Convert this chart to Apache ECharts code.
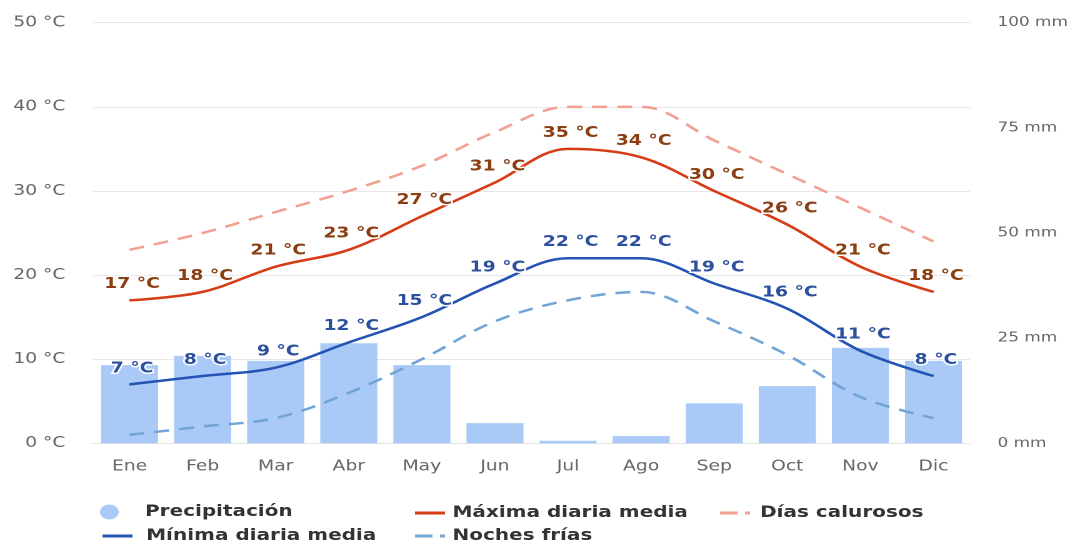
<!DOCTYPE html>
<html>
<head>
<meta charset="utf-8">
<script src="https://cdn.jsdelivr.net/npm/echarts@6/dist/echarts.min.js"></script>
<style>
  html, body { margin: 0; padding: 0; background: #fff; overflow: hidden; }
  /* chart is laid out narrow and widened with a horizontal stretch */
  #chart { width: 865px; height: 542px; transform: scaleX(1.25); transform-origin: 0 0; }
</style>
</head>
<body>
<div id="chart"></div>
<script>
const months = ['Ene', 'Feb', 'Mar', 'Abr', 'May', 'Jun', 'Jul', 'Ago', 'Sep', 'Oct', 'Nov', 'Dic'];
const precipitation = [18.6, 20.8, 19.6, 23.8, 18.6, 4.8, 0.6, 1.7, 9.5, 13.6, 22.7, 19.6];
const maxDaily = [17, 18, 21, 23, 27, 31, 35, 34, 30, 26, 21, 18];
const minDaily = [7, 8, 9, 12, 15, 19, 22, 22, 19, 16, 11, 8];
const hotDays = [23, 25, 27.5, 30, 33, 37, 40, 40, 36, 32, 28, 24];
const coldNights = [1, 2, 3, 6, 10, 14.5, 17, 18, 14.5, 10.5, 5.5, 3];
const tempTicks = [0, 50, 10];   // min, max, interval (°C)
const rainTicks = [0, 100, 25];  // min, max, interval (mm)

const FONT = 'DejaVu Sans';
const C = {
  bar: '#a9c9f7',
  max: '#d63c16',
  maxLabel: '#8a3e12',
  hot: '#f1a092',
  min: '#2453b5',
  minLabel: '#2c4f9e',
  cold: '#72a5d5'
};

const chart = echarts.init(document.getElementById('chart'), null, { devicePixelRatio: 2, renderer: 'canvas' });

function legendAt(name, left, top, icon, w, h, pad) {
  return {
    data: [{ name: name, icon: icon }],
    left: left, top: top,
    itemWidth: w, itemHeight: h,
    selectedMode: false,
    padding: 0,
    textStyle: { fontFamily: FONT, fontWeight: 'bold', fontSize: 16, color: '#333', padding: [0, 0, 0, pad] }
  };
}

const dashIcon = 'path://M0,0h14v3h-14z M20,0h4v3h-4z';

function labelStyle(color) {
  return {
    show: true, position: 'top', distance: 8, offset: [2, 0],
    formatter: '{c} °C',
    fontFamily: FONT, fontWeight: 'bold', fontSize: 15, color: color,
    textBorderColor: '#fff', textBorderWidth: 3
  };
}

chart.setOption({
  animation: false,
  grid: { left: 74.4, right: 89, top: 22.7, bottom: 98.7, containLabel: false },
  legend: [
    legendAt('Precipitación', 80, 504, 'circle', 15, 15, 16),
    legendAt('Máxima diaria media', 332, 505, 'rect', 24, 3, 1),
    legendAt('Días calurosos', 576, 505, dashIcon, 24, 3, 3),
    legendAt('Mínima diaria media', 82, 528, 'rect', 24, 3, 6),
    legendAt('Noches frías', 332, 528, dashIcon, 24, 3, 1)
  ],
  xAxis: {
    type: 'category', data: months,
    axisLine: { show: true, lineStyle: { color: '#e3e3e3', width: 1 } },
    axisTick: { show: false },
    axisLabel: { fontFamily: FONT, fontSize: 15, color: '#666', margin: 16 }
  },
  yAxis: [
    {
      type: 'value', min: tempTicks[0], max: tempTicks[1], interval: tempTicks[2],
      axisLine: { show: false }, axisTick: { show: false },
      splitLine: { lineStyle: { color: '#e6e6e6', width: 1 } },
      axisLabel: { formatter: '{value} °C', fontFamily: FONT, fontSize: 15, color: '#666', margin: 22 }
    },
    {
      type: 'value', min: rainTicks[0], max: rainTicks[1], interval: rainTicks[2],
      axisLine: { show: false }, axisTick: { show: false },
      splitLine: { show: false },
      axisLabel: { formatter: '{value} mm', fontFamily: FONT, fontSize: 13.5, color: '#666', margin: 22 }
    }
  ],
  series: [
    {
      name: 'Precipitación', type: 'bar', yAxisIndex: 1, data: precipitation,
      barCategoryGap: '22%', itemStyle: { color: C.bar }, z: 1
    },
    {
      name: 'Máxima diaria media', type: 'line', data: maxDaily, smooth: 0.35,
      symbol: 'circle', symbolSize: 1, itemStyle: { color: C.max },
      lineStyle: { color: C.max, width: 2.5 }, label: labelStyle(C.maxLabel), z: 4
    },
    {
      name: 'Días calurosos', type: 'line', data: hotDays, smooth: 0.35,
      symbol: 'none', itemStyle: { color: C.hot },
      lineStyle: { color: C.hot, width: 2.5, type: [12, 8] }, z: 3
    },
    {
      name: 'Mínima diaria media', type: 'line', data: minDaily, smooth: 0.35,
      symbol: 'circle', symbolSize: 1, itemStyle: { color: C.min },
      lineStyle: { color: C.min, width: 2.5 }, label: labelStyle(C.minLabel), z: 4
    },
    {
      name: 'Noches frías', type: 'line', data: coldNights, smooth: 0.35,
      symbol: 'none', itemStyle: { color: C.cold },
      lineStyle: { color: C.cold, width: 2.5, type: [12, 8] }, z: 3
    }
  ]
});
</script>
</body>
</html>
